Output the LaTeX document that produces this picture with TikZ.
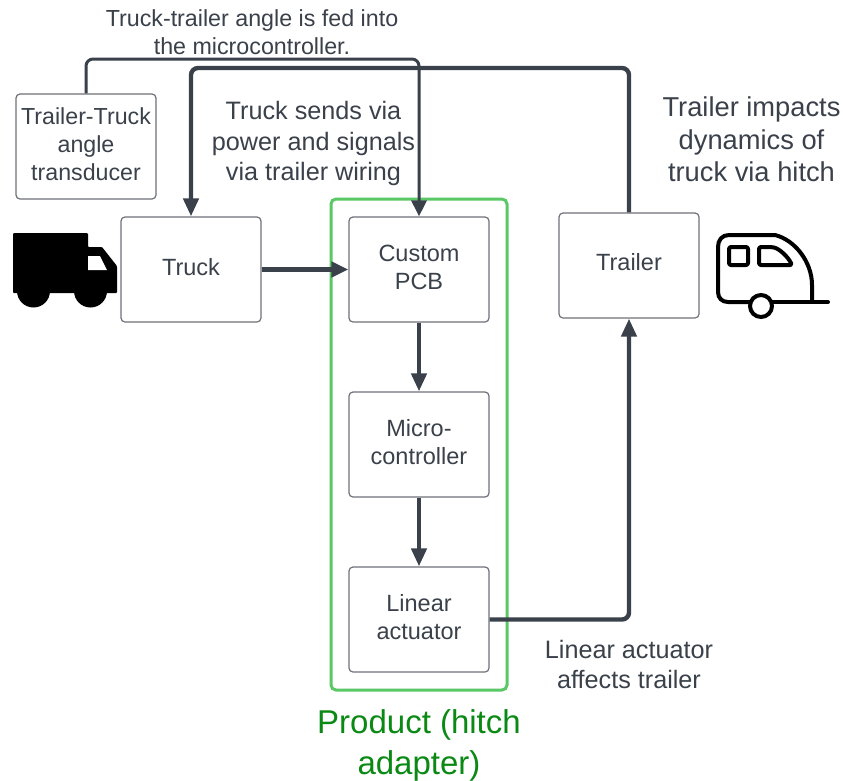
\documentclass[tikz,border=0pt]{standalone}
\usepackage{fontspec}
\setmainfont{Liberation Sans}
\usetikzlibrary{arrows.meta}
\definecolor{ink}{HTML}{3A414A}
\definecolor{boxline}{HTML}{6E7178}
\definecolor{hitch}{HTML}{5AC864}
\definecolor{prod}{HTML}{0A8A14}
\newcommand\liftup[2][-0.5pt]{\raisebox{#1}[\height][\depth]{\begin{tabular}{@{}c@{}}#2\end{tabular}}}
\tikzset{
  x=1pt,y=-1pt,
  block/.style={draw=boxline,line width=1.2pt,rounded corners=4pt,fill=white,minimum width=140pt,minimum height=105pt,inner sep=0pt,text=ink,font=\fontsize{23.5}{28}\selectfont},
  caption/.style={align=center,text=ink,inner sep=0pt,font=\fontsize{25.2}{30.5}\selectfont},
  thin link/.style={draw=ink,line width=3pt,rounded corners=7pt,-{Triangle[length=16pt,width=15pt]}},
  link/.style={draw=ink,line width=4.4pt,rounded corners=7pt,-{Triangle[length=18pt,width=15pt]}},
  icon/.style={draw=black,line width=4pt,line join=round,line cap=round}
}
\begin{document}
\begin{tikzpicture}
\useasboundingbox (0,0) rectangle (843,780);
\fill[white] (0,0) rectangle (843,780);
% boxes
\node[block] (truck) at (191,269.5) {\liftup{Truck}};
\node[block] (pcb) at (419,269.5) {\liftup{Custom\\PCB}};
\node[block] (micro) at (419,444.5) {\liftup{Micro-\\controller}};
\node[block] (act) at (419,619.5) {\liftup{Linear\\actuator}};
\node[block] (trailer) at (629,265.5) {\liftup[0.5pt]{Trailer}};
\node[block,font=\fontsize{23.2}{28}\selectfont] (sensor) at (86,146.5) {\liftup{Trailer-Truck\\angle\\transducer}};
% frame
\node[draw=hitch,line width=3pt,rounded corners=5pt,minimum width=176pt,minimum height=491pt,inner sep=0pt] (frame) at (419,444.5) {};
% connectors
\coordinate (a1) at (sensor.north |- 0,59);
\coordinate (a2) at (pcb.north |- 0,59);
\draw[thin link] (sensor.north) -- (a1) -- (a2) -- (pcb.north);
\coordinate (b1) at (trailer.north |- 0,68);
\coordinate (b2) at (truck.north |- 0,68);
\draw[link] (trailer.north) -- (b1) -- (b2) -- (truck.north);
\draw[link,-{Triangle[length=17pt,width=15pt]}] (truck.east) -- (pcb.west);
\draw[link] (pcb.south) -- (micro.north);
\draw[link] (micro.south) -- (act.north);
\coordinate (c1) at (trailer.south |- act.east);
\draw[link] (act.east) -- (c1) -- (trailer.south);
% captions
\node[caption,font=\fontsize{23.25}{28}\selectfont] (t1) at (252,32) {Truck-trailer angle is fed into\\the microcontroller.};
\node[caption] (t2) at (313.5,143.5) {Truck sends via\\power and signals\\via trailer wiring};
\node[caption,font=\fontsize{27.3}{32.5}\selectfont] (t3) at (751.5,139.5) {Trailer impacts\\dynamics of\\truck via hitch};
\node[caption,font=\fontsize{25.2}{30}\selectfont] (t4) at (629,664) {Linear actuator\\affects trailer};
\node[caption,text=prod,font=\fontsize{33}{41}\selectfont] (t5) at (419,745) {Product (hitch\\adapter)};
% truck icon
\fill[black,rounded corners=1pt] (13,293) -- (13,233) -- (88,233) -- (88,247) -- (102,247) -- (117,266) -- (117,293) -- cycle;
\fill[black] (33.5,291) circle (16.5) (90.5,291) circle (16.5);
\fill[white] (88,256) -- (100,256) -- (107,270) -- (88,270) -- cycle;
% trailer icon
\draw[icon] (750,302) -- (728,302) .. controls (722,302) and (718,298) .. (718,292) -- (718,247) .. controls (718,240) and (722,235) .. (729,235) -- (775,235) .. controls (795,240) and (812,262) .. (812,285) -- (812,302);
\draw[icon] (772,302) -- (828,302);
\draw[icon,rounded corners=2pt] (729,247) rectangle (748,265);
\draw[icon,rounded corners=2pt] (759,247) -- (772,247) .. controls (780,249) and (788,257) .. (792,265) -- (759,265) -- cycle;
\draw[icon,fill=white] (761,306) circle (11);
\end{tikzpicture}
\end{document}
